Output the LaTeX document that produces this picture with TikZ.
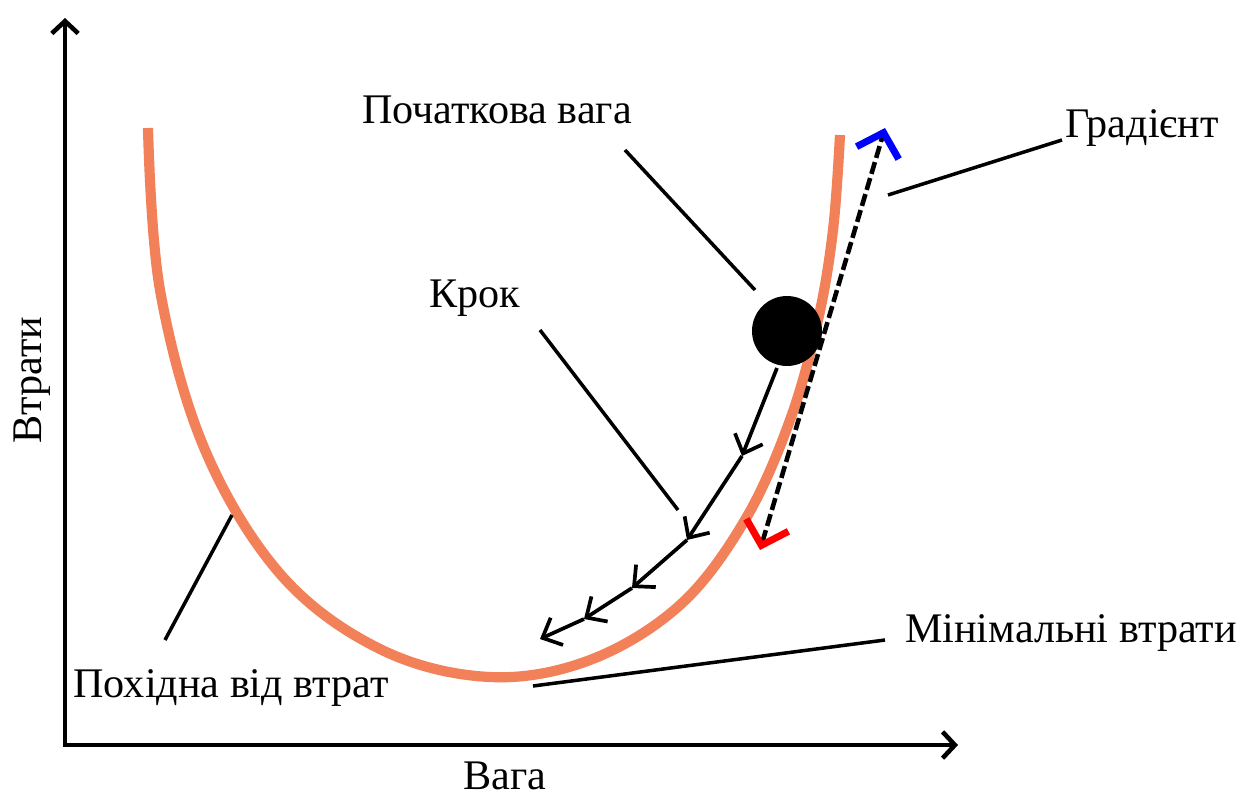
\documentclass[tikz,border=0pt]{standalone}
\usepackage{fontspec}
\setmainfont{Liberation Serif}
\usetikzlibrary{arrows.meta}
\definecolor{lossorange}{RGB}{242,128,88}

\begin{document}
\begin{tikzpicture}[
    x=0.02cm, y=-0.02cm,
    txt/.style={font=\fontsize{24}{28}\selectfont, inner sep=0pt},
    pointer/.style={line width=2pt},
    axis/.style={line width=2.6pt, {Straight Barb[length=7pt, width=15pt]}-{Straight Barb[length=7pt, width=15pt]}},
    stepline/.style={line width=2.1pt, -{Straight Barb[length=9pt, width=17pt]}},
    >=stealth
  ]
  \useasboundingbox (0,0) rectangle (1258,798);
  % axes
  \coordinate (ytop) at (65,18);
  \coordinate (origin) at (65,745);
  \coordinate (xend) at (958,745);
  \draw[axis] (ytop) -- (origin) -- (xend);
  \node[txt, rotate=90] (ylbl) at (32,380) {Втрати};
  \node[txt] (xlbl) at (505,776) {Вага};

  % loss curve
  \draw[lossorange, line width=5.8pt] plot[smooth, tension=0.6] coordinates {
    (148,128) (160,290) (205,450) (282,576) (382,650) (490,677)
    (590,660) (680,605) (745,520) (790,420) (818,320) (833,230) (840,135)};

  % initial weight
  \node[circle, fill=black, minimum size=1.4cm, inner sep=0pt] (ball) at (787,331) {};

  % gradient
  \coordinate (gradlow) at (760,550);
  \coordinate (gradtop) at (885,128);
  \draw[line width=2.6pt, dash pattern=on 7pt off 2.5pt,
    {Straight Barb[red, length=12pt, width=25pt, line width=4pt]}-{Straight Barb[blue, length=12pt, width=25pt, line width=4pt]}]
    (gradlow) -- (gradtop);

  % steps
  \coordinate (k0) at (777,368);
  \coordinate (k1) at (742,456);
  \coordinate (k2) at (687,540);
  \coordinate (k3) at (632,588);
  \coordinate (k4) at (584,619);
  \coordinate (k5) at (540,639);
  \draw[stepline] (k0) -- (k1);
  \draw[stepline] (k1) -- (k2);
  \draw[stepline] (k2) -- (k3);
  \draw[stepline] (k3) -- (k4);
  \draw[stepline] (k4) -- (k5);

  % labels and pointers
  \node[txt] (initlbl) at (497,110) {Початкова вага};
  \node[txt] (gradlbl) at (1142,128) {Градієнт};
  \node[txt] (steplbl) at (475,298) {Крок};
  \node[txt] (derivlbl) at (231,688) {Похідна від втрат};
  \node[txt] (minlbl) at (1071,633) {Мінімальні втрати};
  \coordinate (initptr) at (755,290);
  \coordinate (initfrom) at (625,150);
  \coordinate (stepptr) at (678,510);
  \coordinate (stepfrom) at (540,330);
  \coordinate (gradptr) at (888,195);
  \coordinate (gradfrom) at (1062,140);
  \coordinate (minptr) at (533,686);
  \coordinate (minfrom) at (885,640);
  \coordinate (derivptr) at (232,515);
  \coordinate (derivfrom) at (165,640);
  \draw[pointer] (initfrom) -- (initptr);
  \draw[pointer] (stepfrom) -- (stepptr);
  \draw[pointer] (gradfrom) -- (gradptr);
  \draw[pointer] (minfrom) -- (minptr);
  \draw[pointer] (derivfrom) -- (derivptr);
\end{tikzpicture}
\end{document}
